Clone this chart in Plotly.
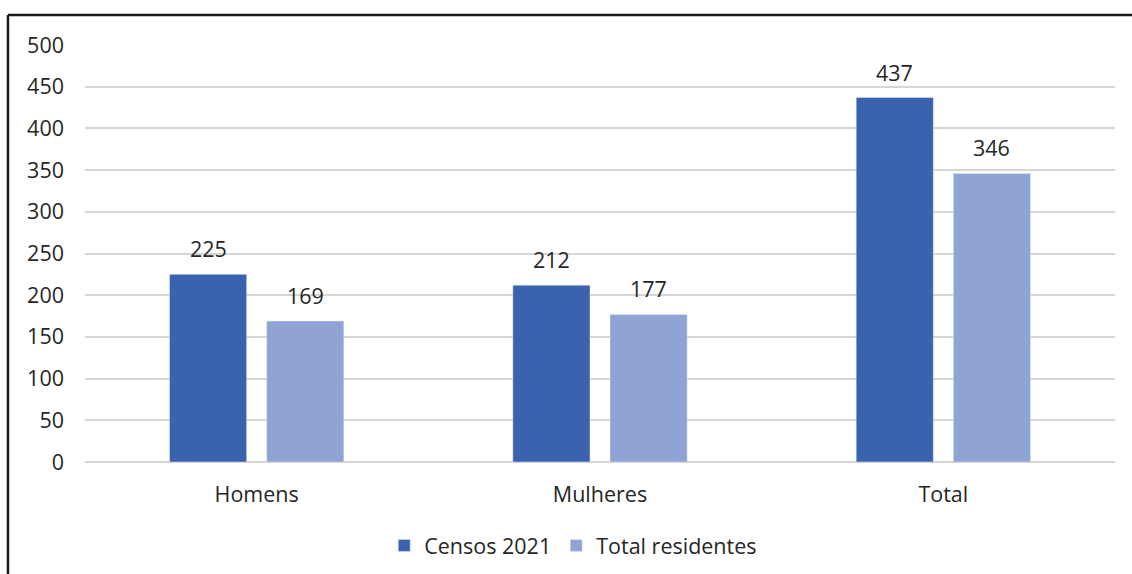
import plotly.graph_objects as go

categories = ["Homens", "Mulheres", "Total"]
censos_2021 = [225, 212, 437]
total_residentes = [169, 177, 346]
y_ticks = [0, 50, 100, 150, 200, 250, 300, 350, 400, 450, 500]

FONT = "Open Sans"
TEXT = "#262626"
SIZE = 21.5
BARGAP = 0.434
DARK = "#3A62AE"
LIGHT = "#8FA3D4"

fig = go.Figure()
fig.add_trace(go.Bar(name="Censos 2021", x=categories, y=censos_2021, marker_color=DARK))
fig.add_trace(go.Bar(name="Total residentes", x=categories, y=total_residentes, marker_color=LIGHT))

# value labels above each bar, offset to the centre of its slot within the group
slot = (1 - BARGAP) / 2
annotations = []
for series, offset in ((censos_2021, -slot / 2), (total_residentes, slot / 2)):
    for i, v in enumerate(series):
        annotations.append(dict(
            x=i + offset, y=v, xref="x", yref="y", text=str(v), showarrow=False,
            yanchor="bottom", yshift=9, font=dict(size=SIZE, color=TEXT, family=FONT),
        ))

fig.update_layout(
    width=1132, height=574,
    margin=dict(l=85, r=17, t=45, b=112, autoexpand=False),
    paper_bgcolor="white", plot_bgcolor="white",
    barmode="group", bargap=BARGAP, bargroupgap=0.206,
    font=dict(family=FONT, size=SIZE, color=TEXT),
    showlegend=True,
    legend=dict(orientation="h", x=0.474, xanchor="center", y=-0.2, yanchor="middle",
                itemwidth=30, font=dict(size=SIZE, color=TEXT, family=FONT),
                traceorder="normal"),
    xaxis=dict(showgrid=False, showline=False, ticks="", ticklabelstandoff=17,
               tickfont=dict(size=SIZE)),
    yaxis=dict(range=[0, 500], tickvals=y_ticks, showgrid=True, gridcolor="#D6D6D6",
               gridwidth=1.5, zeroline=True, zerolinecolor="#D6D6D6", zerolinewidth=1.5,
               ticks="", ticklabelstandoff=20, tickfont=dict(size=SIZE)),
    annotations=annotations,
    shapes=[
        dict(type="line", xref="paper", yref="paper", x0=-0.0748, x1=1.05, y0=1.072, y1=1.072,
             line=dict(color="#1a1a1a", width=2.5)),
        dict(type="line", xref="paper", yref="paper", x0=-0.0748, x1=-0.0748, y0=1.072, y1=-0.5,
             line=dict(color="#1a1a1a", width=2.5)),
    ],
)

fig.write_html("out.html")
